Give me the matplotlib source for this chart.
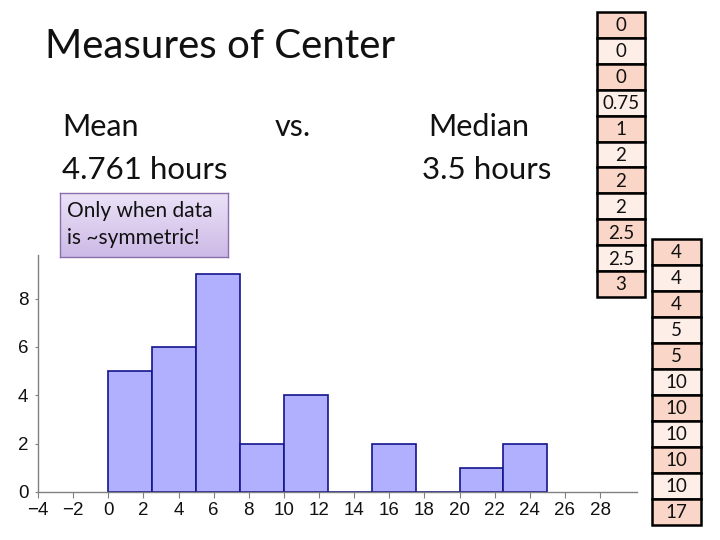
import matplotlib.pyplot as plt
from matplotlib.patches import Rectangle
from matplotlib.colors import LinearSegmentedColormap
import numpy as np

# histogram of hours (bin width 2.5)
bin_edges = [0, 2.5, 5, 7.5, 10, 12.5, 15, 17.5, 20, 22.5, 25]
counts = [5, 6, 9, 2, 4, 0, 2, 0, 1, 2]

# sorted data shown in the two columns
col_left = ["0", "0", "0", "0.75", "1", "2", "2", "2", "2.5", "2.5", "3"]
col_right = ["4", "4", "4", "5", "5", "10", "10", "10", "10", "10", "17"]

xticks = list(range(-4, 29, 2))
yticks = [0, 2, 4, 6, 8]

plt.rcParams['font.family'] = ['Liberation Sans', 'DejaVu Sans']

W, H = 720, 540
fig = plt.figure(figsize=(7.2, 5.4), dpi=100)
font = ['Lato', 'DejaVu Sans']


def fx(px):
    return px / W


def fy(py):
    return 1 - py / H


# histogram axes
ax = fig.add_axes([fx(38), fy(492), fx(637) - fx(38), fy(255) - fy(492)])
widths = np.diff(bin_edges)
ax.bar(bin_edges[:-1], counts, width=widths, align='edge',
       color='#b0b0ff', edgecolor='#14148c', linewidth=1.2)
ax.set_xlim(-4, 30.1)
ax.set_ylim(0, 9.8)
ax.set_xticks(xticks)
ax.set_yticks(yticks)
for s in ['top', 'right']:
    ax.spines[s].set_visible(False)
for s in ['left', 'bottom']:
    ax.spines[s].set_color('#808080')
    ax.spines[s].set_linewidth(1)
ax.tick_params(axis='x', colors='#808080', labelcolor='#111111', length=4,
               labelsize=13.5, pad=3)
ax.tick_params(axis='y', colors='#808080', labelcolor='#111111', length=2,
               labelsize=13.5, pad=5)

# slide text
fig.text(fx(45), fy(47), "Measures of Center", fontsize=29, family=font,
         va='center', ha='left', color='#111111')
fig.text(fx(62), fy(127), "Mean", fontsize=22, family=font, va='center', color='#111111')
fig.text(fx(275), fy(127), "vs.", fontsize=22, family=font, va='center', color='#111111')
fig.text(fx(428), fy(127), "Median", fontsize=22, family=font, va='center', color='#111111')
fig.text(fx(62), fy(170), "4.761 hours", fontsize=22.5, family=font, va='center', color='#111111')
fig.text(fx(422), fy(170), "3.5 hours", fontsize=22.5, family=font, va='center', color='#111111')

# note box with a soft lavender gradient
box = fig.add_axes([fx(60), fy(257), fx(228) - fx(60), fy(193) - fy(257)])
grad = LinearSegmentedColormap.from_list('lav', ['#ebe2f7', '#cdb9e6'])
box.imshow(np.linspace(0, 1, 64).reshape(-1, 1), cmap=grad, aspect='auto',
           extent=[0, 1, 0, 1], origin='upper')
box.set_xticks([])
box.set_yticks([])
for s in box.spines.values():
    s.set_color('#8a6fae')
    s.set_linewidth(1)
fig.text(fx(67), fy(211), "Only when data", fontsize=15, family=font,
         va='center', color='#111111')
fig.text(fx(67), fy(238), "is ~symmetric!", fontsize=15, family=font,
         va='center', color='#111111')


def draw_column(values, x0, x1, top, row_h):
    for i, v in enumerate(values):
        y_top = top + i * row_h
        fc = '#fad6c8' if i % 2 == 0 else '#fdeee8'
        fig.patches.append(Rectangle((fx(x0), fy(y_top + row_h)), fx(x1) - fx(x0),
                                     fy(y_top) - fy(y_top + row_h),
                                     transform=fig.transFigure, facecolor=fc,
                                     edgecolor='black', linewidth=1.8))
        fig.text(fx((x0 + x1) / 2), fy(y_top + row_h / 2 + 1), v, fontsize=13.5,
                 family=font, ha='center', va='center', color='#111111')


draw_column(col_left, 597, 645, 12, 25.9)
draw_column(col_right, 652, 701, 239, 26)

plt.savefig("out.png", dpi=100)
